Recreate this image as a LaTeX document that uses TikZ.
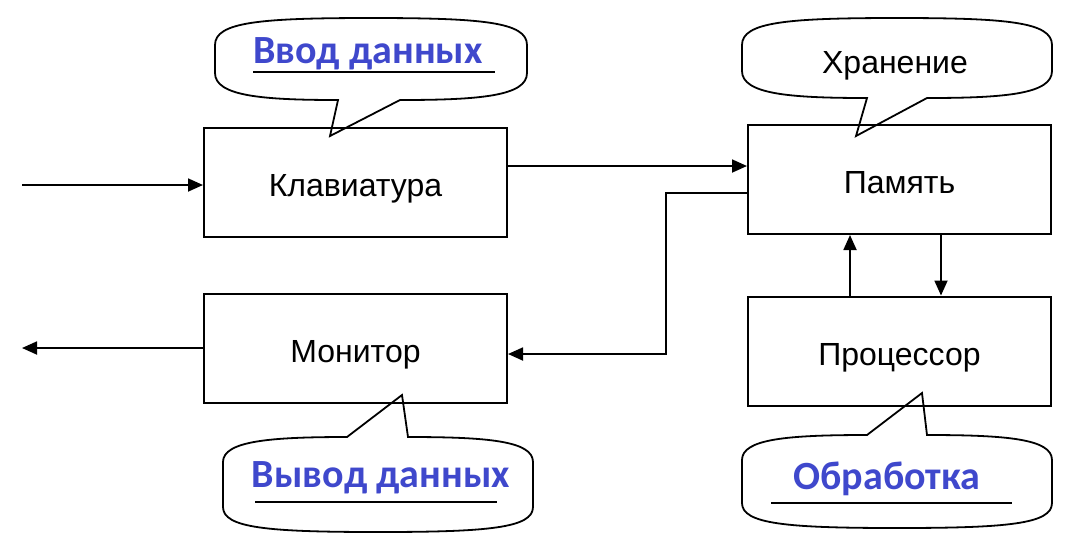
\documentclass[tikz,border=0pt]{standalone}
\usepackage{fontspec}
\setmainfont{Liberation Sans}
\newfontfamily\bluefont{Carlito}
\usetikzlibrary{arrows.meta}
\definecolor{lblue}{RGB}{63,72,204}
\begin{document}
\begin{tikzpicture}[x=0.5pt,y=-0.5pt,
  box/.style={draw,line width=1pt,minimum width=151.5pt,minimum height=54.5pt,inner sep=0pt,text height=14pt,text depth=0pt,font=\fontsize{16}{18}\selectfont},
  arr/.style={line width=0.9pt,-{Triangle[length=7.5pt,width=6.5pt]}},
  bub/.style={draw,line width=0.9pt,line join=miter},
  blab/.style={font=\bluefont\bfseries\fontsize{20}{23}\selectfont,text=lblue,inner sep=0pt,anchor=base},
  klab/.style={font=\fontsize{16}{18}\selectfont,inner sep=0pt,anchor=base},
  uline/.style={line width=0.8pt}]
\useasboundingbox (0,0) rectangle (1082,548);
% boxes
\node[box] (kb) at (355.5,182.5) {Клавиатура};
\node[box] (mon) at (355.5,348.5) {Монитор};
\node[box] (mem) at (899.5,179.5) {Память};
\node[box] (proc) at (899.5,351) {Процессор};
% free ends and bends
\coordinate (in) at (22,185);
\coordinate (out) at (22,348);
\coordinate (h1) at (0,166);
\coordinate (r1) at (666,193);
\coordinate (r2) at (666,354);
\coordinate (u) at (850,0);
\coordinate (d) at (941,0);
% connectors
\draw[arr] (in) -- (in -| kb.west);
\draw[arr] (mon.west |- out) -- (out);
\draw[arr] (kb.east |- h1) -- (mem.west |- h1);
\draw[arr] (mem.west |- r1) -- (r1) -- (r2) -- (mon.east |- r2);
\draw[arr] (proc.north -| u) -- (mem.south -| u);
\draw[arr] (mem.south -| d) -- (proc.north -| d);
% callouts
\draw[bub] (215,45) .. controls (215,22) and (260,18) .. (371,18) .. controls (482,18) and (527,22) .. (527,45) -- (527,73) .. controls (527,96) and (480,100) .. (400,100) -- (330,136) -- (338,100) .. controls (262,100) and (215,96) .. (215,73) -- cycle;
\node[blab] (t1) at (368,63) {Ввод данных};
\draw[uline] (253,72) -- (495,72);

\draw[bub] (742,45) .. controls (742,22) and (787,18) .. (897,18) .. controls (1007,18) and (1052,22) .. (1052,45) -- (1052,71) .. controls (1052,94) and (1005,98) .. (927,98) -- (856,136) -- (867,98) .. controls (789,98) and (742,94) .. (742,71) -- cycle;
\node[klab] (t2) at (895,73) {Хранение};

\draw[bub] (223,462) .. controls (223,441) and (270,437) .. (347,437) -- (402,395) -- (408,437) .. controls (488,437) and (533,441) .. (533,462) -- (533,507) .. controls (533,528) and (488,532) .. (378,532) .. controls (268,532) and (223,528) .. (223,507) -- cycle;
\node[blab] (t3) at (381,487) {Вывод данных};
\draw[uline] (255,502) -- (497,502);

\draw[bub] (742,460) .. controls (742,439) and (787,435) .. (867,435) -- (922,393) -- (927,435) .. controls (1007,435) and (1052,439) .. (1052,460) -- (1052,503) .. controls (1052,524) and (1007,528) .. (897,528) .. controls (787,528) and (742,524) .. (742,503) -- cycle;
\node[blab] (t4) at (887,489) {Обработка};
\draw[uline] (771,503) -- (1012,503);
\end{tikzpicture}
\end{document}
